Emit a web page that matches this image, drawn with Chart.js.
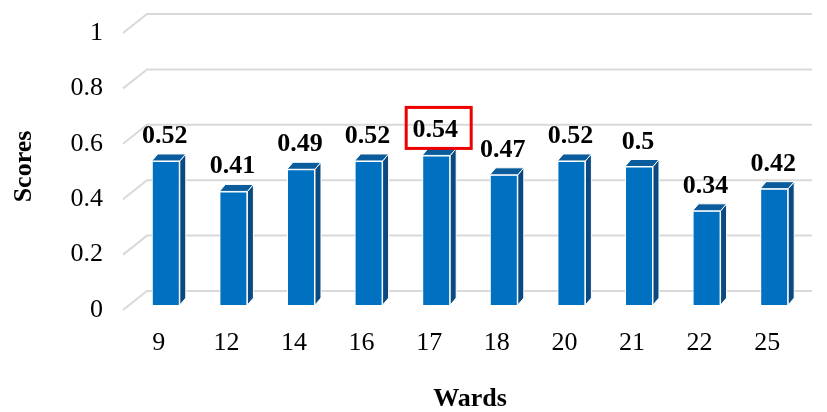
<!DOCTYPE html>
<html>
<head>
<meta charset="utf-8">
<script src="https://cdn.jsdelivr.net/npm/chart.js@4/dist/chart.umd.min.js"></script>
<style>
  html, body { margin: 0; padding: 0; background: #fff; }
  #wrap { width: 827px; height: 412px; }
</style>
</head>
<body>
<div id="wrap"><canvas id="chart"></canvas></div>
<script>
const wards = ['9', '12', '14', '16', '17', '18', '20', '21', '22', '25'];
const scores = [0.52, 0.41, 0.49, 0.52, 0.54, 0.47, 0.52, 0.5, 0.34, 0.42];
const scoreTicks = [0, 0.2, 0.4, 0.6, 0.8, 1];
const highlighted = ['17'];

const serif = "'Liberation Serif', 'Times New Roman', serif";
const yLabelShift = 5;

// floor + back wall grid lines, drawn behind the bars
const wallGrid = {
  id: 'wallGrid',
  beforeDatasetsDraw(chart) {
    const { ctx, chartArea, scales: { y } } = chart;
    ctx.save();
    ctx.strokeStyle = '#d9d9d9';
    ctx.lineWidth = 2;
    scoreTicks.forEach(v => {
      const py = y.getPixelForValue(v) + yLabelShift;
      ctx.beginPath();
      ctx.moveTo(chartArea.left - 9, py);
      ctx.lineTo(chartArea.left + 15, py - 19);
      ctx.lineTo(chartArea.right + 4, py - 19);
      ctx.stroke();
    });
    ctx.restore();
  }
};

// side and top faces of the 3d columns, plus value labels
const columns3d = {
  id: 'columns3d',
  afterDatasetsDraw(chart) {
    const { ctx } = chart;
    const meta = chart.getDatasetMeta(0);
    const dx = 6, dy = 7;
    ctx.save();
    meta.data.forEach((bar, i) => {
      const { x, y, base, width } = bar.getProps(['x', 'y', 'base', 'width'], true);
      const l = x - width / 2, r = x + width / 2;
      ctx.strokeStyle = '#ffffff';
      ctx.lineWidth = 1;
      // side
      ctx.beginPath();
      ctx.moveTo(r, y);
      ctx.lineTo(r + dx, y - dy);
      ctx.lineTo(r + dx, base - dy);
      ctx.lineTo(r, base);
      ctx.closePath();
      ctx.fillStyle = '#0b4a80';
      ctx.fill();
      ctx.stroke();
      // top
      ctx.beginPath();
      ctx.moveTo(l, y);
      ctx.lineTo(l + dx, y - dy);
      ctx.lineTo(r + dx, y - dy);
      ctx.lineTo(r, y);
      ctx.closePath();
      ctx.fillStyle = '#0a5c9c';
      ctx.fill();
      ctx.stroke();

      // value label
      const tx = x - 1, ty = y - 18;
      ctx.fillStyle = '#000';
      ctx.font = 'bold 26px ' + serif;
      ctx.textAlign = 'center';
      ctx.textBaseline = 'alphabetic';
      ctx.fillText(String(scores[i]), tx, ty);

      if (highlighted.includes(wards[i])) {
        ctx.strokeStyle = '#ee0000';
        ctx.lineWidth = 3;
        ctx.strokeRect(tx - 29, ty - 30, 65, 41);
      }
    });
    ctx.restore();
  }
};

new Chart(document.getElementById('chart'), {
  type: 'bar',
  data: {
    labels: wards,
    datasets: [{
      label: 'Scores',
      data: scores,
      backgroundColor: '#0070c0',
      borderColor: '#ffffff',
      borderWidth: 1,
      categoryPercentage: 1,
      barPercentage: 0.414
    }]
  },
  options: {
    responsive: true,
    maintainAspectRatio: false,
    animation: false,
    layout: { padding: { top: 28, right: 19, bottom: 0, left: 0 } },
    plugins: {
      legend: { display: false },
      tooltip: { enabled: false }
    },
    scales: {
      x: {
        grid: { display: false, drawTicks: false },
        border: { display: false },
        ticks: {
          color: '#000',
          font: { family: serif, size: 26 },
          padding: 23,
          labelOffset: -7,
          maxRotation: 0
        },
        title: {
          display: true,
          text: 'Wards',
          color: '#000',
          font: { family: serif, size: 26, weight: 'bold', lineHeight: 1 },
          padding: { top: 0, bottom: 0 }
        },
        afterFit(scale) {
          scale.height = 107;
          scale.paddingLeft = 0;
          scale.paddingRight = 0;
        }
      },
      y: {
        min: 0,
        max: 1,
        grid: { display: false, drawTicks: false },
        border: { display: false },
        afterBuildTicks(scale) { scale.ticks = scoreTicks.map(v => ({ value: v })); },
        ticks: {
          color: '#000',
          font: { family: serif, size: 26 },
          padding: 29,
          labelOffset: yLabelShift,
          callback: v => String(v)
        },
        title: {
          display: true,
          text: 'Scores',
          color: '#000',
          font: { family: serif, size: 26, weight: 'bold', lineHeight: 1 },
          padding: { top: 11, bottom: 0 }
        },
        afterFit(scale) {
          scale.width = 132;
          scale.paddingTop = 0;
          scale.paddingBottom = 0;
        }
      }
    }
  },
  plugins: [wallGrid, columns3d]
});
</script>
</body>
</html>
